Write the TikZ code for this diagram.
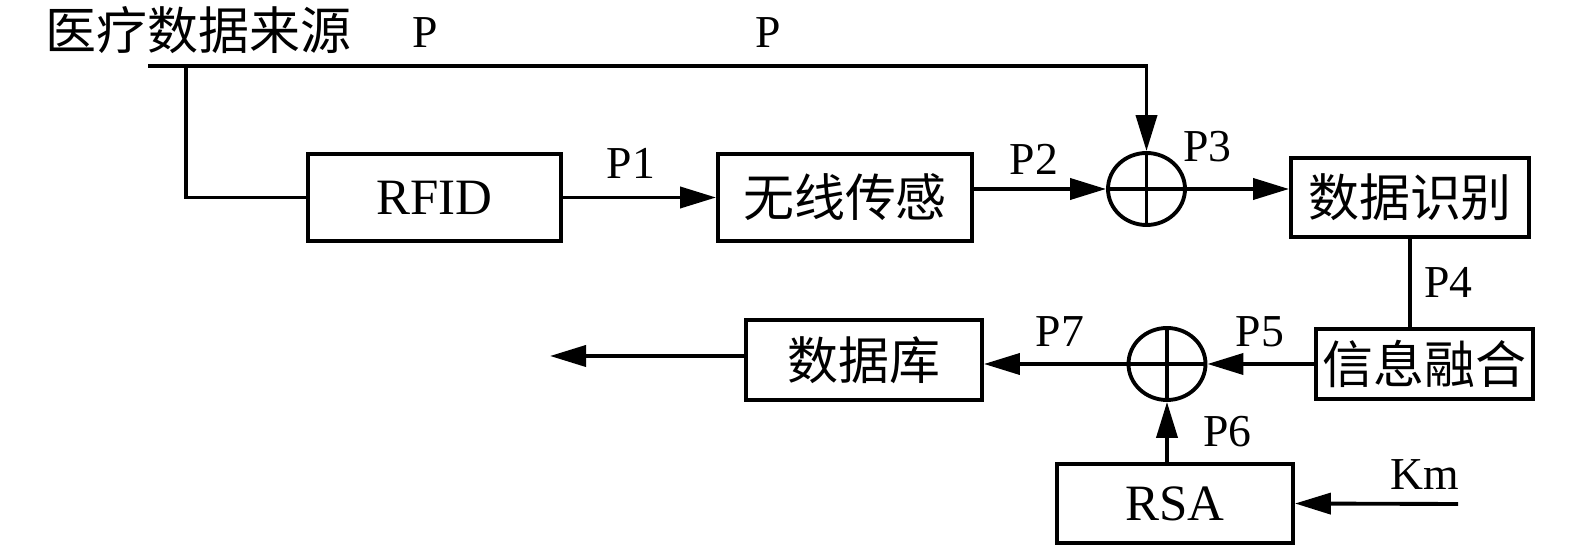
\documentclass[tikz,border=0pt]{standalone}
\usepackage{fontspec}
\setmainfont{Liberation Serif}
\newfontfamily\cjk{Noto Sans CJK SC}
\usetikzlibrary{arrows.meta,shapes.geometric}

\begin{document}
\begin{tikzpicture}[
  line width=1.1pt,
  block/.style={rectangle, draw, inner sep=0pt, font=\fontsize{14.5}{16}\selectfont},
  cjkblock/.style={block, font=\cjk\fontsize{14.5}{16}\selectfont},
  adder/.style={ellipse, draw, minimum width=0.77cm, minimum height=0.72cm, inner sep=0pt,
    path picture={\draw (path picture bounding box.north) -- (path picture bounding box.south)
      (path picture bounding box.west) -- (path picture bounding box.east);}},
  lbl/.style={anchor=base, inner sep=0pt, font=\fontsize{13}{15}\selectfont},
  flow/.style={-{Triangle[length=3.6mm,width=2.1mm]}}
]
\useasboundingbox (0, 0) rectangle (15.75cm, -5.49cm);

\node at (1.985cm, -0.305cm) [inner sep=0pt, font=\cjk\fontsize{14.5}{16}\selectfont] (source) {医疗数据来源};
\node at (4.345cm, -1.975cm) [block, minimum width=2.53cm, minimum height=0.87cm] (RFID) {RFID};
\node at (8.45cm, -1.975cm) [cjkblock, minimum width=2.54cm, minimum height=0.87cm] (sensor) {无线传感};
\node at (11.465cm, -1.89cm) [adder] (add1) {};
\node at (14.10cm, -1.975cm) [cjkblock, minimum width=2.38cm, minimum height=0.79cm] (identify) {数据识别};
\node at (14.245cm, -3.64cm) [cjkblock, minimum width=2.17cm, minimum height=0.70cm] (fusion) {信息融合};
\node at (11.67cm, -3.64cm) [adder] (add2) {};
\node at (8.64cm, -3.60cm) [cjkblock, minimum width=2.36cm, minimum height=0.80cm] (database) {数据库};
\node at (11.75cm, -5.035cm) [block, minimum width=2.36cm, minimum height=0.79cm] (RSA) {RSA};

\coordinate (tapL) at (1.48cm, -0.66cm);
\coordinate (tap) at (1.86cm, -0.66cm);
\coordinate (topR) at (add1 |- tapL);
\coordinate (out) at (5.50cm, -3.56cm);
\coordinate (key) at (14.58cm, -5.04cm);

% signal path
\draw[flow] (tapL) -- (topR) -- (add1.north);
\draw (tap) |- (RFID.west);
\draw[flow] (RFID) -- (sensor);
\draw[flow] (sensor.east |- add1) -- (add1.west);
\draw[flow] (add1.east) -- (identify.west |- add1);
\draw (identify.south) -- (identify.south |- fusion.north);
\draw[flow] (fusion.west) -- (add2.east);
\draw[flow] (RSA.north -| add2) -- (add2.south);
\draw[flow] (add2.west) -- (database.east |- add2);
\draw[flow] (database.west |- out) -- (out);
\draw[flow] (key) -- (RSA.east);

% labels
\node at (4.25cm, -0.48cm) [lbl] (pSrc) {P};
\node at (7.68cm, -0.48cm) [lbl] (pTop) {P};
\node at (6.31cm, -1.79cm) [lbl] (p1) {P1};
\node at (10.34cm, -1.75cm) [lbl] (p2) {P2};
\node at (12.075cm, -1.62cm) [lbl] (p3) {P3};
\node at (14.485cm, -2.98cm) [lbl] (p4) {P4};
\node at (12.60cm, -3.47cm) [lbl] (p5) {P5};
\node at (12.275cm, -4.47cm) [lbl] (p6) {P6};
\node at (10.60cm, -3.47cm) [lbl] (p7) {P7};
\node at (14.25cm, -4.90cm) [lbl] (km) {Km};
\end{tikzpicture}
\end{document}
